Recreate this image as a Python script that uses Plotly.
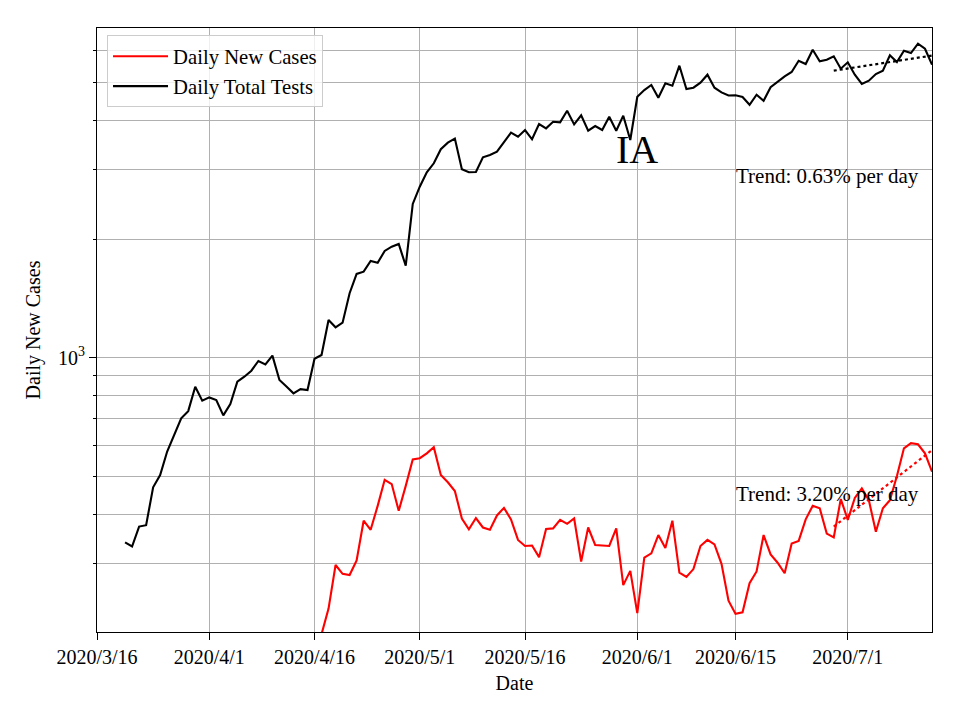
import plotly.graph_objects as go
import pandas as pd

# ---------------- data ----------------
tests_start = "2020-03-20"
daily_total_tests = [
    340, 332, 373, 376, 469, 504, 578, 637, 702, 732, 844, 778,
    793, 781, 714, 763, 869, 895, 927, 981, 962, 1012, 878, 845, 812, 832, 828,
    994, 1016, 1246, 1194, 1227, 1457, 1631, 1653, 1759, 1741, 1865, 1912, 1943, 1711, 2454,
    2715, 2953, 3112, 3378, 3511, 3594, 3005, 2953, 2958, 3224, 3267, 3330, 3531, 3721, 3635,
    3780, 3580, 3913, 3817, 3967, 3954, 4231, 3906, 4119, 3764, 3869, 3780, 4086, 3764, 4110, 3565,
    4590, 4774, 4916, 4563, 4965, 4895, 5503, 4802, 4839, 4982, 5221, 4839, 4710, 4625,
    4630, 4584, 4381, 4645, 4485, 4851, 5003, 5172, 5304, 5665, 5558, 6041, 5646, 5700, 5814, 5408,
    5613, 5221, 4945, 5041, 5242, 5345, 5847, 5623, 6006, 5926, 6257, 6076, 5535,
]

cases_start = "2020-04-17"
daily_new_cases = [
    199,
    231, 298, 283, 281, 306, 386, 366, 421, 490, 478, 409, 473, 552,
    556, 572, 593, 504, 483, 459, 391, 367, 392, 371, 366, 398, 416, 389, 345,
    333, 334, 312, 368, 369, 388, 379, 391, 304, 371, 335, 334, 333, 369, 265, 288,
    225, 311, 319, 355, 329, 386, 285, 278, 291, 333, 345, 336, 300, 242,
    224, 226, 268, 287, 355, 317, 302, 284, 338, 343, 389, 421, 415, 358, 350, 438,
    388, 441, 466, 435, 362, 415, 435, 501, 589, 607, 603, 572, 514,
]

trend_dates = ["2020-06-29", "2020-07-13"]
tests_trend = [5345, 5838]
cases_trend = [373, 583]

x_tick_dates = ["2020-03-16", "2020-04-01", "2020-04-16", "2020-05-01",
                "2020-05-16", "2020-06-01", "2020-06-15", "2020-07-01"]
x_tick_labels = ["2020/3/16", "2020/4/1", "2020/4/16", "2020/5/1",
                 "2020/5/16", "2020/6/1", "2020/6/15", "2020/7/1"]
y_major_vals = [1000]
y_major_text = ["10<sup>3</sup>"]
y_minor_vals = [200, 300, 400, 500, 600, 700, 800, 900, 2000, 3000, 4000, 5000, 6000]

state_label = "IA"
tests_trend_text = "Trend: 0.63% per day"
cases_trend_text = "Trend: 3.20% per day"

# ---------------- figure ----------------
tests_dates = pd.date_range(tests_start, periods=len(daily_total_tests), freq="D")
cases_dates = pd.date_range(cases_start, periods=len(daily_new_cases), freq="D")

FONT = "Liberation Serif"
GRID = "#b0b0b0"

fig = go.Figure()
fig.add_trace(go.Scatter(x=cases_dates, y=daily_new_cases, mode="lines",
                         line=dict(color="#ff0000", width=2.1), name="Daily New Cases"))
fig.add_trace(go.Scatter(x=tests_dates, y=daily_total_tests, mode="lines",
                         line=dict(color="#000000", width=2.1), name="Daily Total Tests"))
fig.add_trace(go.Scatter(x=trend_dates, y=tests_trend, mode="lines",
                         line=dict(color="#000000", width=2.2, dash="dot"), showlegend=False))
fig.add_trace(go.Scatter(x=trend_dates, y=cases_trend, mode="lines",
                         line=dict(color="#ff0000", width=2.2, dash="dot"), showlegend=False))

# the page body adds an 8px offset, so the figure is sized to fit the window
fig.update_layout(
    width=952, height=712,
    margin=dict(l=89, r=28, t=20, b=88),
    paper_bgcolor="white", plot_bgcolor="white",
    font=dict(family=FONT, size=20, color="black"),
    showlegend=True,
    legend=dict(x=0.012, y=0.988, xanchor="left", yanchor="top",
                bgcolor="rgba(255,255,255,0.8)", bordercolor="#cccccc", borderwidth=1,
                itemwidth=55,
                font=dict(family=FONT, size=20.7, color="black"), tracegroupgap=0),
    xaxis=dict(
        type="date", range=["2020-03-16", "2020-07-13"],
        tickmode="array", tickvals=x_tick_dates, ticktext=x_tick_labels,
        ticks="outside", ticklen=7, tickwidth=1, tickcolor="black",
        showgrid=True, gridcolor=GRID, gridwidth=1,
        showline=True, linecolor="black", linewidth=1, mirror=True,
        zeroline=False,
        title=dict(text="Date", font=dict(family=FONT, size=20), standoff=8),
        tickfont=dict(family=FONT, size=20, color="black"),
    ),
    yaxis=dict(
        type="log", range=[2.3043, 3.8362],
        tickmode="array", tickvals=y_major_vals, ticktext=y_major_text,
        ticks="outside", ticklen=7, tickwidth=1, tickcolor="black",
        showgrid=True, gridcolor=GRID, gridwidth=1,
        minor=dict(tickmode="array", tickvals=y_minor_vals, ticks="outside",
                   ticklen=3.5, tickcolor="black", showgrid=True, gridcolor=GRID, gridwidth=1),
        showline=True, linecolor="black", linewidth=1, mirror=True,
        zeroline=False,
        title=dict(text="Daily New Cases", font=dict(family=FONT, size=20), standoff=12),
        tickfont=dict(family=FONT, size=20, color="black"),
    ),
)

fig.add_annotation(text=state_label, xref="paper", yref="paper", x=0.6467, y=0.799,
                   showarrow=False, font=dict(family=FONT, size=40, color="black"),
                   xanchor="center", yanchor="middle")
fig.add_annotation(text=tests_trend_text, xref="paper", yref="paper", x=0.8752, y=0.7545,
                   showarrow=False, font=dict(family=FONT, size=21, color="black"),
                   xanchor="center", yanchor="middle")
fig.add_annotation(text=cases_trend_text, xref="paper", yref="paper", x=0.8752, y=0.2287,
                   showarrow=False, font=dict(family=FONT, size=21, color="black"),
                   xanchor="center", yanchor="middle")

fig.write_html("out.html")
